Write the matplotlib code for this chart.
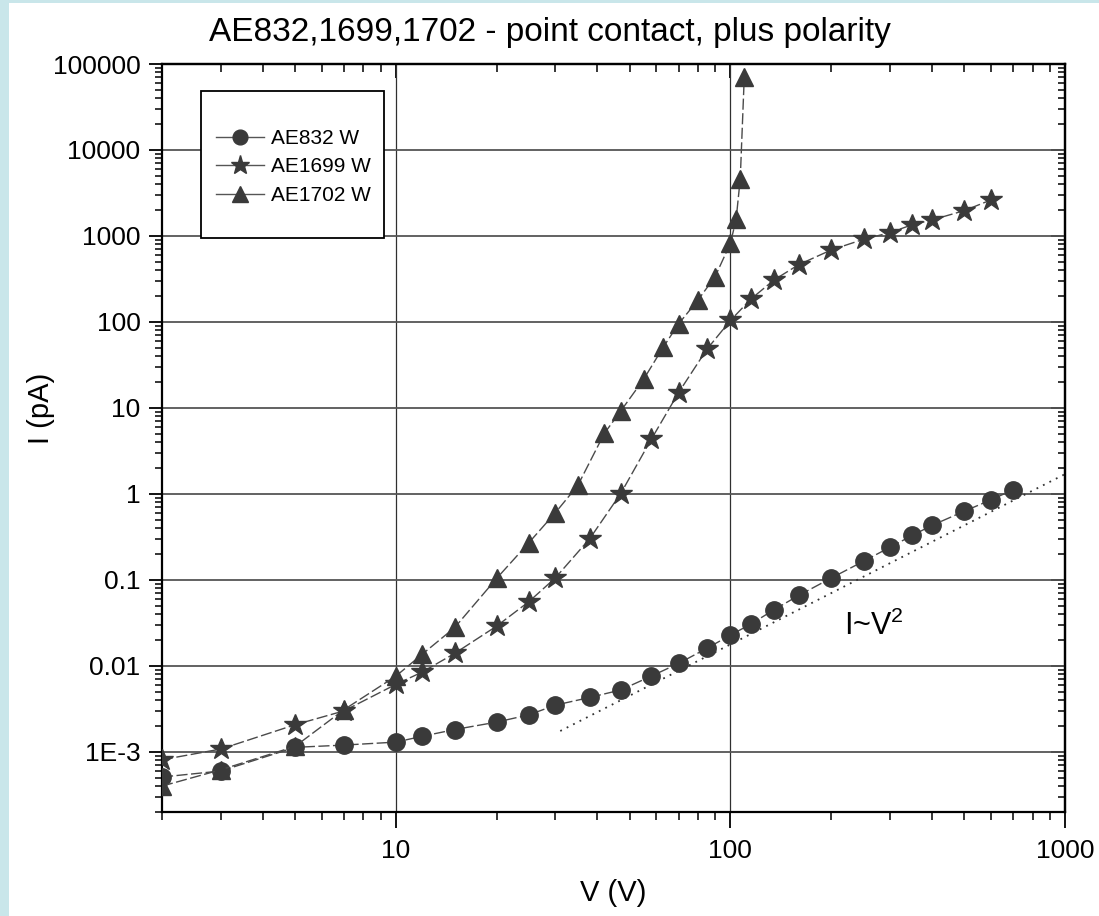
import numpy as np
import matplotlib
matplotlib.use("Agg")
import matplotlib.pyplot as plt
from matplotlib.patches import Rectangle
from matplotlib.lines import Line2D
from matplotlib.ticker import LogLocator, NullFormatter, FixedLocator, FixedFormatter

plt.rcParams['font.family'] = ['Liberation Sans', 'DejaVu Sans']
plt.rcParams['mathtext.fontset'] = 'custom'
plt.rcParams['mathtext.rm'] = 'Liberation Sans'
plt.rcParams['mathtext.it'] = 'Liberation Sans'

# ---------------- data ----------------
v_ae832 = [2, 3, 5, 7, 10, 12, 15, 20, 25, 30, 38, 47, 58, 70, 85, 100, 115, 135,
           160, 200, 250, 300, 350, 400, 500, 600, 700]
i_ae832 = [5.1e-4, 6.0e-4, 1.13e-3, 1.2e-3, 1.3e-3, 1.52e-3, 1.82e-3, 2.22e-3, 2.7e-3,
           3.5e-3, 4.3e-3, 5.25e-3, 7.6e-3, 0.0107, 0.016, 0.0228, 0.0306, 0.045,
           0.066, 0.105, 0.165, 0.24, 0.33, 0.43, 0.63, 0.85, 1.12]

v_ae1699 = [2, 3, 5, 7, 10, 12, 15, 20, 25, 30, 38, 47, 58, 70, 85, 100, 115, 135,
            160, 200, 250, 300, 350, 400, 500, 600]
i_ae1699 = [8.1e-4, 1.08e-3, 2.07e-3, 3.0e-3, 6.1e-3, 8.5e-3, 0.0140, 0.029, 0.056,
            0.106, 0.303, 1.01, 4.32, 15.1, 48, 104, 184, 308, 464, 687, 915, 1094,
            1355, 1535, 1971, 2620]

v_ae1702 = [2, 3, 5, 7, 10, 12, 15, 20, 25, 30, 35, 42, 47, 55, 63, 70, 80, 90, 100,
            104, 107, 110]
i_ae1702 = [4.0e-4, 6.2e-4, 1.16e-3, 3.1e-3, 7.6e-3, 0.0137, 0.028, 0.104, 0.272,
            0.607, 1.26, 5.07, 9.2, 21.5, 51, 95, 180, 337, 822, 1563, 4640, 71300]

ref_v = [31, 1000]
ref_i = [0.00175, 1.7]

series_labels = ['AE832 W', 'AE1699 W', 'AE1702 W']
y_ticks = [1e-3, 1e-2, 1e-1, 1, 10, 100, 1000, 1e4, 1e5]
y_ticklabels = ['1E-3', '0.01', '0.1', '1', '10', '100', '1000', '10000', '100000']
x_ticks = [10, 100, 1000]
x_ticklabels = ['10', '100', '1000']

# ---------------- figure ----------------
W, H = 1099, 916
fig = plt.figure(figsize=(W / 100, H / 100), dpi=100, facecolor='#c9e6ea')
fig.add_artist(Rectangle((9 / W, 0), 1, (H - 3) / H, transform=fig.transFigure,
                         facecolor='white', edgecolor='none', zorder=0))

L, R, T, B = 162, 1065, 64, 812
ax = fig.add_axes([L / W, (H - B) / H, (R - L) / W, (B - T) / H])
ax.set_xscale('log')
ax.set_yscale('log')
ax.set_xlim(2, 1000)
ax.set_ylim(2e-4, 1e5)

mcol = '#3a3a3a'
lcol = '#4a4a4a'
dash = (0, (8, 2.5))
styles = [dict(marker='o', ms=12.5), dict(marker='*', ms=16.5), dict(marker='^', ms=13)]
data = [(v_ae832, i_ae832), (v_ae1699, i_ae1699), (v_ae1702, i_ae1702)]
for (v, i), st in zip(data, styles):
    ax.plot(v, i, linestyle=dash, color=lcol, lw=1.0, mfc=mcol, mec=mcol,
            zorder=3, **st)
ax.plot(ref_v, ref_i, linestyle=(0, (1, 3)), color='#333333', lw=1.3, zorder=2)
ax.text(219, 0.029, r'I~V$^{2}$', fontsize=22, ha='left', va='center')

# grid
ax.set_axisbelow(True)
ax.yaxis.grid(True, which='major', color='#555555', lw=1.3)
ax.xaxis.grid(True, which='major', color='#303030', lw=0.9)

# ticks
ax.yaxis.set_major_locator(FixedLocator(y_ticks))
ax.yaxis.set_major_formatter(FixedFormatter(y_ticklabels))
ax.xaxis.set_major_locator(FixedLocator(x_ticks))
ax.xaxis.set_major_formatter(FixedFormatter(x_ticklabels))
ax.yaxis.set_minor_locator(LogLocator(base=10, subs=np.arange(2, 10), numticks=100))
ax.xaxis.set_minor_locator(LogLocator(base=10, subs=np.arange(2, 10), numticks=100))
ax.xaxis.set_minor_formatter(NullFormatter())
ax.yaxis.set_minor_formatter(NullFormatter())

ax.tick_params(axis='y', which='major', direction='out', length=9.5, width=1.3,
               labelsize=19, pad=6, right=False)
ax.tick_params(axis='y', which='minor', direction='out', length=5, width=1.1, right=False)
ax.tick_params(axis='x', which='major', direction='out', length=11.5, width=1.3,
               labelsize=19, pad=8, top=False)
ax.tick_params(axis='x', which='minor', direction='out', length=5.5, width=1.1, top=False)

for s in ax.spines.values():
    s.set_linewidth(1.6)
    s.set_color('black')

secx = ax.secondary_xaxis('top')
secx.xaxis.set_minor_locator(LogLocator(base=10, subs=np.arange(2, 10), numticks=100))
secx.xaxis.set_major_locator(FixedLocator(x_ticks))
secx.xaxis.set_major_formatter(NullFormatter())
secx.xaxis.set_minor_formatter(NullFormatter())
secx.tick_params(which='major', direction='in', length=10, width=1.3)
secx.tick_params(which='minor', direction='in', length=5.5, width=1.1)
secx.spines['top'].set_linewidth(1.6)

secy = ax.secondary_yaxis('right')
secy.yaxis.set_minor_locator(LogLocator(base=10, subs=np.arange(2, 10), numticks=100))
secy.yaxis.set_major_locator(FixedLocator(y_ticks))
secy.yaxis.set_major_formatter(NullFormatter())
secy.yaxis.set_minor_formatter(NullFormatter())
secy.tick_params(which='major', direction='in', length=10, width=1.3)
secy.tick_params(which='minor', direction='in', length=5, width=1.1)
secy.spines['right'].set_linewidth(1.6)

# legend box + legend
bx0, bx1, by0, by1 = 201, 384, 91, 238
ax.add_patch(Rectangle(((bx0 - L) / (R - L), (B - by1) / (B - T)),
                       (bx1 - bx0) / (R - L), (by1 - by0) / (B - T),
                       transform=ax.transAxes, facecolor='white', edgecolor='black',
                       lw=1.3, zorder=4))
handles = [Line2D([], [], linestyle='-', color='#555555', lw=1.0, mfc=mcol, mec=mcol,
                  **st) for st in styles]
leg = ax.legend(handles, series_labels, loc='center',
                bbox_to_anchor=((293.5 - L) / (R - L), (B - 167) / (B - T)),
                frameon=False, fontsize=15, handlelength=2.3, handletextpad=0.3,
                labelspacing=0.45, borderpad=0, markerscale=0.85)
leg.set_zorder(5)

# texts
fig.text(0.5, 1 - 33 / H, 'AE832,1699,1702 - point contact, plus polarity',
         ha='center', va='center', fontsize=24)
fig.text((L + R) / 2 / W, 1 - 893 / H, 'V (V)', ha='center', va='center', fontsize=21)
fig.text(41 / W, 1 - 408 / H, 'I (pA)', ha='center', va='center', fontsize=21,
         rotation=90)

fig.savefig('out.png', dpi=100, facecolor=fig.get_facecolor())
